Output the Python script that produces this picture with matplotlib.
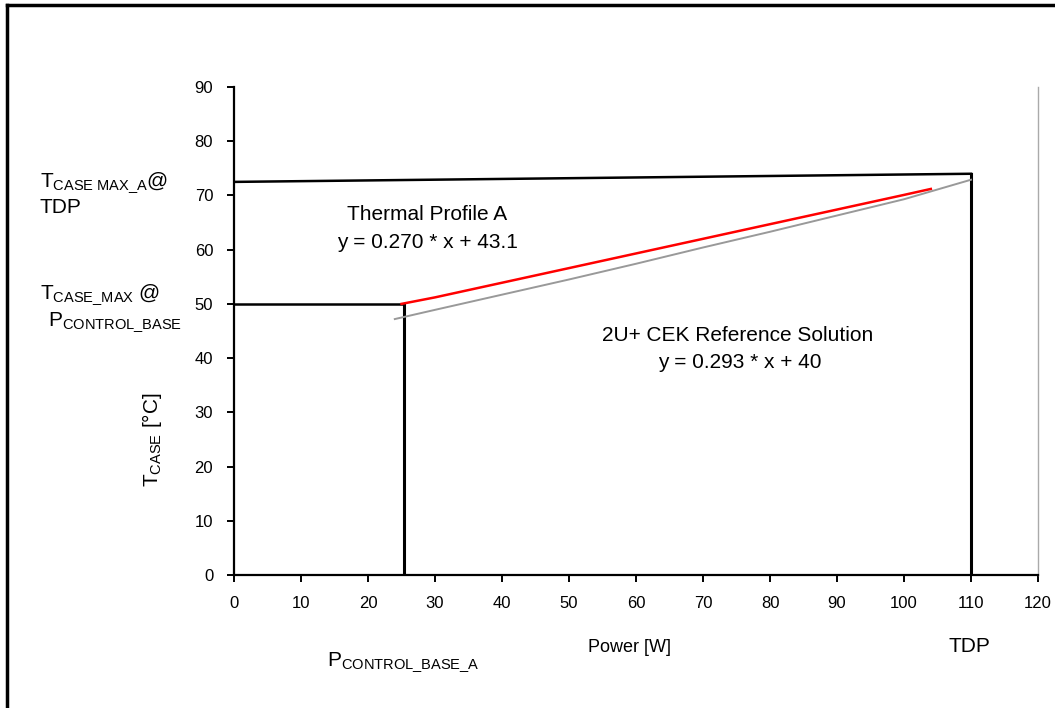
import matplotlib
matplotlib.use("Agg")
import matplotlib.pyplot as plt
from matplotlib.lines import Line2D

plt.rcParams['font.family'] = ['Liberation Sans', 'DejaVu Sans']
plt.rcParams['mathtext.fontset'] = 'custom'
plt.rcParams['mathtext.rm'] = 'Liberation Sans'
plt.rcParams['mathtext.it'] = 'Liberation Sans'

# Thermal Profile A (red)
profile_power = [25, 30, 40, 50, 60, 70, 80, 90, 100, 104]
profile_temp = [50.0, 51.2, 53.9, 56.6, 59.3, 62.0, 64.7, 67.4, 70.1, 71.2]

# 2U+ CEK reference solution (grey)
cek_power = [24, 30, 40, 50, 60, 70, 80, 90, 100, 110]
cek_temp = [47.2, 48.9, 51.7, 54.5, 57.4, 60.4, 63.3, 66.3, 69.3, 72.9]

# limit lines (black)
tdp = 110
p_control_base = 25.3
tcase_max_tdp = [72.5, 74.0]
tcase_max_pcb = 50

x_ticks = list(range(0, 121, 10))
y_ticks = list(range(0, 91, 10))

fig = plt.figure(figsize=(10.55, 7.08), dpi=100)
ax = fig.add_axes([0.2218, 0.1879, 0.7621, 0.6892])

ax.plot([0, tdp], tcase_max_tdp, color='black', lw=1.8)
ax.plot([tdp, tdp], [tcase_max_tdp[1], 0], color='black', lw=2.2)
ax.plot([0, p_control_base], [tcase_max_pcb, tcase_max_pcb], color='black', lw=1.8)
ax.plot([p_control_base, p_control_base], [tcase_max_pcb, 0.5], color='black', lw=2.2)
ax.plot(cek_power, cek_temp, color='#999999', lw=1.4)
ax.plot(profile_power, profile_temp, color='#ff0000', lw=1.8)

ax.set_xlim(0, 120)
ax.set_ylim(0, 90)
ax.set_xticks(x_ticks)
ax.set_yticks(y_ticks)
ax.tick_params(direction='out', length=5, width=1.4, labelsize=12, pad=10)
ax.spines['top'].set_visible(False)
ax.spines['right'].set_color('#aaaaaa')
ax.spines['right'].set_linewidth(1.0)
ax.spines['left'].set_linewidth(1.6)
ax.spines['bottom'].set_linewidth(1.6)

ax.text(28.8, 66.4, 'Thermal Profile A', ha='center', va='center', fontsize=15)
ax.text(28.8, 61.4, 'y = 0.270 * x + 43.1', ha='center', va='center', fontsize=15)
ax.text(75.2, 44.1, '2U+ CEK Reference Solution', ha='center', va='center', fontsize=15)
ax.text(75.5, 39.1, 'y = 0.293 * x + 40', ha='center', va='center', fontsize=15)

# labels outside the plot area
fig.text(40 / 1055, 1 - 183 / 708, r'T$_{\rm CASE\ MAX\_A}$@', fontsize=15, va='center')
fig.text(40 / 1055, 1 - 208 / 708, 'TDP', fontsize=15, va='center')
fig.text(40 / 1055, 1 - 295 / 708, r'T$_{\rm CASE\_MAX}$ @', fontsize=15, va='center')
fig.text(48 / 1055, 1 - 322 / 708, r'P$_{\rm CONTROL\_BASE}$', fontsize=15, va='center')
fig.text(152 / 1055, 1 - 440 / 708, r'T$_{\rm CASE}$ [°C]', fontsize=15, va='center',
         ha='center', rotation=90)
fig.text(630 / 1055, 1 - 647 / 708, 'Power [W]', fontsize=13, va='center', ha='center')
fig.text(969 / 1055, 1 - 646 / 708, 'TDP', fontsize=15, va='center', ha='center')
fig.text(403 / 1055, 1 - 662 / 708, r'P$_{\rm CONTROL\_BASE\_A}$', fontsize=15,
         va='center', ha='center')

# outer frame (top and left edges)
fig.add_artist(Line2D([7 / 1055, 1], [1 - 5 / 708, 1 - 5 / 708], color='black', lw=2.5,
                      transform=fig.transFigure))
fig.add_artist(Line2D([7 / 1055, 7 / 1055], [0, 1 - 5 / 708], color='black', lw=2.5,
                      transform=fig.transFigure))

fig.savefig('out.png', dpi=100, facecolor='white')
